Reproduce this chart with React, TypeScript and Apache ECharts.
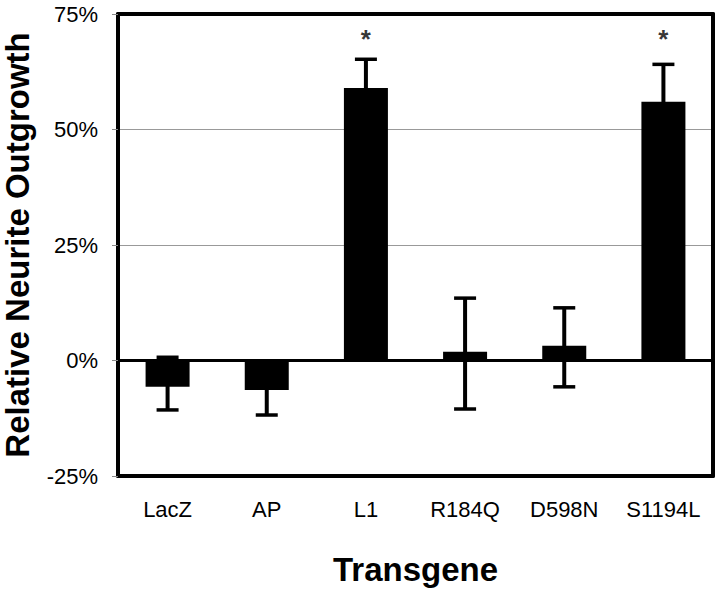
import React, { useEffect, useRef } from "react";
import * as echarts from "echarts";

const categories = ["LacZ", "AP", "L1", "R184Q", "D598N", "S1194L"];
const means = [-5.7, -6.4, 59.0, 1.9, 3.2, 56.0];
const errHigh = [0.7, -1.0, 65.2, 13.5, 11.4, 64.1];
const errLow = [-10.7, -11.8, 52.8, -10.5, -5.7, 47.9];
const significant = [false, false, true, false, false, true];
const starLevel = 69.5;
const yTicks = [-25, 0, 25, 50, 75];

export default function App() {
  const ref = useRef<HTMLDivElement>(null);
  useEffect(() => {
    if (!ref.current) return;
    const chart = echarts.init(ref.current, undefined, { renderer: "svg" });
    const font = "'Liberation Sans', Arial, sans-serif";
    const frame = { show: true, lineStyle: { color: "#000", width: 4 } };
    chart.setOption({
      animation: false,
      textStyle: { fontFamily: font, color: "#000" },
      grid: {
        left: 118,
        right: 7,
        top: 14,
        bottom: 118,
        outerBoundsMode: "none",
        containLabel: false,
        show: false,
      },
      xAxis: [
        {
          type: "category",
          data: categories,
          position: "bottom",
          axisLine: { ...frame, onZero: false },
          axisTick: { show: false },
          axisLabel: { color: "#000", fontSize: 22, margin: 22, fontFamily: font },
          name: "Transgene",
          nameLocation: "middle",
          nameGap: 77,
          nameTextStyle: { fontSize: 33, fontWeight: "bold", color: "#000", fontFamily: font },
        },
        {
          type: "category",
          data: categories,
          position: "top",
          axisLine: { ...frame, onZero: false },
          axisTick: { show: false },
          axisLabel: { show: false },
        },
      ],
      yAxis: [
        {
          type: "value",
          min: yTicks[0],
          max: yTicks[yTicks.length - 1],
          interval: 25,
          position: "left",
          axisLine: { ...frame, onZero: false },
          axisTick: { show: true, length: 6, lineStyle: { color: "#888", width: 1 } },
          axisLabel: {
            color: "#000",
            fontSize: 22,
            margin: 20,
            fontFamily: font,
            formatter: "{value}%",
          },
          splitLine: { show: true, lineStyle: { color: "#999", width: 1 } },
          name: "Relative Neurite Outgrowth",
          nameLocation: "middle",
          nameGap: 84,
          nameTextStyle: { fontSize: 33, fontWeight: "bold", color: "#000", fontFamily: font },
        },
        {
          type: "value",
          min: yTicks[0],
          max: yTicks[yTicks.length - 1],
          interval: 25,
          position: "right",
          axisLine: { ...frame, onZero: false },
          axisTick: { show: false },
          axisLabel: { show: false },
          splitLine: { show: false },
        },
      ],
      series: [
        {
          type: "bar",
          data: means,
          barWidth: 44,
          itemStyle: { color: "#000" },
          markLine: {
            silent: true,
            symbol: ["none", "none"],
            label: { show: false },
            lineStyle: { color: "#000", width: 3, type: "solid" },
            data: [{ yAxis: 0 }],
          },
        },
        {
          type: "custom",
          data: categories.map((_, i) => [i, errLow[i], errHigh[i]]),
          z: 5,
          renderItem: (params: any, api: any) => {
            const x = api.value(0);
            const pLo = api.coord([x, api.value(1)]);
            const pHi = api.coord([x, api.value(2)]);
            const half = 11;
            const st = { stroke: "#000", lineWidth: 4 };
            return {
              type: "group",
              children: [
                { type: "line", shape: { x1: pLo[0], y1: pHi[1], x2: pLo[0], y2: pLo[1] }, style: st },
                { type: "line", shape: { x1: pHi[0] - half, y1: pHi[1], x2: pHi[0] + half, y2: pHi[1] }, style: { stroke: "#000", lineWidth: 3.5 } },
                { type: "line", shape: { x1: pLo[0] - half, y1: pLo[1], x2: pLo[0] + half, y2: pLo[1] }, style: { stroke: "#000", lineWidth: 3.5 } },
              ],
            };
          },
        },
        {
          type: "scatter",
          data: categories
            .map((_, i) => (significant[i] ? [i, starLevel] : null))
            .filter((d) => d !== null),
          symbolSize: 1,
          itemStyle: { color: "transparent" },
          label: {
            show: true,
            position: "inside",
            formatter: "*",
            fontSize: 26,
            fontWeight: "bold",
            color: "#000",
            fontFamily: font,
          },
        },
      ],
    });
    return () => chart.dispose();
  }, []);
  return (
    <div
      ref={ref}
      style={{ position: "absolute", left: 0, top: 0, width: 720, height: 594 }}
    />
  );
}
